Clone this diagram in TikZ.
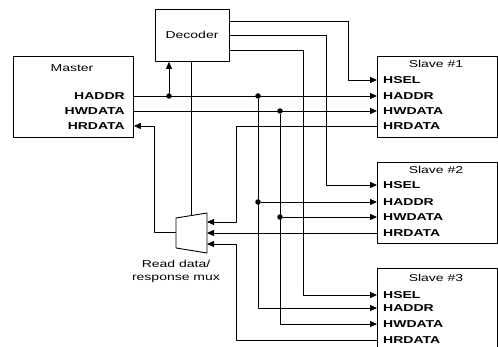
\documentclass[tikz,border=0pt]{standalone}
\usepackage{fontspec}
\setmainfont[FakeStretch=1.4]{Liberation Sans}
\usetikzlibrary{arrows.meta}
\tikzset{
  every picture/.style={line join=round, >={Triangle[length=7pt,width=6pt]}},
  box/.style={draw, line width=0.9pt, inner sep=0pt},
  sig/.style={font=\fontsize{10}{12}\selectfont\bfseries, inner sep=0pt},
  ttl/.style={font=\fontsize{10}{12}\selectfont, inner sep=0pt},
  wire/.style={line width=0.8pt},
  dot/.style={circle, fill, inner sep=0pt, minimum size=5.5pt},
}

\begin{document}
\begin{tikzpicture}[x=1pt,y=1pt]
\useasboundingbox (0,0) rectangle (498,-347);
\node[box,minimum width=120pt,minimum height=81pt,anchor=north west] (master) at (13,-56) {};
\node[box,minimum width=74pt,minimum height=52pt,anchor=north west] (dec) at (155,-9) {};
\node[box,minimum width=120pt,minimum height=81pt,anchor=north west] (s1) at (377,-56) {};
\node[box,minimum width=120pt,minimum height=81pt,anchor=north west] (s2) at (377,-162) {};
\node[box,minimum width=120pt,minimum height=100pt,anchor=north west] (s3) at (377,-268) {};

\node[ttl] (mt) at (72,-68) {Master};
\node[ttl] (dt) at (192,-35) {Decoder};
\node[ttl] (s1t) at (436,-64) {Slave \#1};
\node[ttl] (s2t) at (436,-170) {Slave \#2};
\node[ttl] (s3t) at (436,-278) {Slave \#3};

\node[sig,anchor=east] (mhaddr) at (125,-96) {HADDR};
\node[sig,anchor=east] (mhwdata) at (125,-111) {HWDATA};
\node[sig,anchor=east] (mhrdata) at (125,-126) {HRDATA};

\foreach \s/\a/\b/\c/\d in {1/80/96/111/126, 2/185/202/217/233, 3/295/308/324/340}{
  \node[sig,anchor=west] (s\s hsel) at (383,-\a) {HSEL};
  \node[sig,anchor=west] (s\s haddr) at (383,-\b) {HADDR};
  \node[sig,anchor=west] (s\s hwdata) at (383,-\c) {HWDATA};
  \node[sig,anchor=west] (s\s hrdata) at (383,-\d) {HRDATA};
}

% read data mux
\draw[box] (176,-218) -- (207,-213) -- (207,-253) -- (176,-248) -- cycle;
\coordinate (mxin1) at (207,-222);
\coordinate (mxin2) at (207,-233);
\coordinate (mxin3) at (207,-244);
\coordinate (mxout) at (176,-232);
\coordinate (mxsel) at (191,-215.5);
\node[ttl,align=center] (mxt) at (176,-271) {Read data/\\[1pt]response mux};

% decoder outputs
\coordinate (d1) at (229,-21);
\coordinate (d2) at (229,-35);
\coordinate (d3) at (229,-50);
\draw[wire,->] (d1) -- ++(119,0) |- (s1.west |- s1hsel);
\draw[wire,->] (d2) -- ++(97,0) |- (s2.west |- s2hsel);
\draw[wire,->] (d3) -- ++(74,0) |- (s3.west |- s3hsel);
\draw[wire] (dec.south -| mxsel) -- (mxsel);

% address and write data
\node[dot] (j0) at (169,-96) {};
\node[dot] (j1) at (258,-96) {};
\node[dot] (j2) at (280,-111) {};
\node[dot] (j3) at (258,-202) {};
\node[dot] (j4) at (280,-217) {};
\draw[wire,->] (j0) -- (j0 |- dec.south);
\draw[wire,->] (master.east |- mhaddr) -- (s1.west |- s1haddr);
\draw[wire,->] (master.east |- mhwdata) -- (s1.west |- s1hwdata);
\draw[wire,->] (j1) |- (s3.west |- s3haddr);
\draw[wire,->] (j2) |- (s3.west |- s3hwdata);
\draw[wire,->] (j3) -- (s2.west |- s2haddr);
\draw[wire,->] (j4) -- (s2.west |- s2hwdata);

% read data
\draw[wire,->] (s1.west |- s1hrdata) -| (236,-222) -- (mxin1);
\draw[wire,->] (s2.west |- s2hrdata) -- (mxin2);
\draw[wire,->] (s3.west |- s3hrdata) -| (236,-244) -- (mxin3);
\draw[wire,->] (mxout) -| (154,-126) -- (master.east |- mhrdata);
\end{tikzpicture}
\end{document}
